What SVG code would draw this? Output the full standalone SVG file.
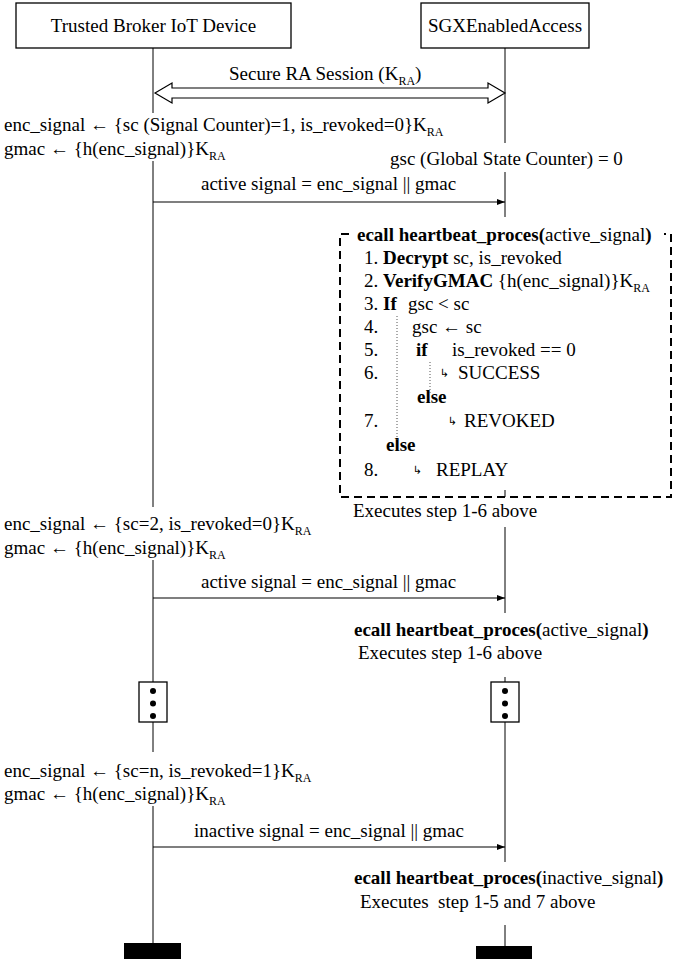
<svg xmlns="http://www.w3.org/2000/svg" width="683" height="959" viewBox="0 0 683 959">
<defs>
<marker id="ah" markerWidth="8" markerHeight="6" refX="8" refY="3" orient="auto" markerUnits="userSpaceOnUse"><path d="M0,0 L8,3 L0,6 z" fill="#000"/></marker>
</defs>
<style>
text{font-family:"Liberation Serif","Times New Roman",serif;font-size:19px;fill:#000}
.b{font-weight:bold}
.sub{font-size:12px}
.ar{font-family:"DejaVu Sans",sans-serif;font-size:11px}
.box{fill:#fff;stroke:#000;stroke-width:1.3}
.life{stroke:#000;stroke-width:1;fill:none}
.msg{stroke:#000;stroke-width:1.2;fill:none;marker-end:url(#ah)}
.dash{fill:none;stroke:#000;stroke-width:2;stroke-dasharray:8 5}
.dot{stroke:#555;stroke-width:1;stroke-dasharray:1 2;fill:none}
.bar{fill:#000}
</style>
<rect x="0" y="0" width="683" height="959" fill="#fff"/>

<g id="broker">
<rect class="box" x="16" y="3" width="275" height="45"/>
<text x="153.5" y="32" text-anchor="middle">Trusted Broker IoT Device</text>
<path class="life" d="M153,48 V113 M153,161 V507 M153,560 V682 M153,722 V752 M153,806 V943"/>
<rect id="broker-dots" class="box" x="139" y="682" width="28" height="40"/>
<circle cx="153" cy="691" r="3"/><circle cx="153" cy="703.5" r="3"/><circle cx="153" cy="716" r="3"/>
<rect class="bar" x="124" y="943" width="57" height="16"/>
</g>

<g id="sgx">
<rect class="box" x="421" y="3" width="168" height="45"/>
<text x="505" y="32" text-anchor="middle">SGXEnabledAccess</text>
<path class="life" d="M505,48 V143 M505,172 V217 M505,490 V497 M505,527 V613 M505,677 V682 M505,722 V862 M505,925 V946"/>
<rect id="sgx-dots" class="box" x="491" y="682" width="28" height="40"/>
<circle cx="505" cy="691" r="3"/><circle cx="505" cy="703.5" r="3"/><circle cx="505" cy="716" r="3"/>
<rect class="bar" x="476" y="946" width="56" height="13"/>
</g>

<g id="broker-notes">
<text x="4" y="131">enc_signal ← {sc (Signal Counter)=1, is_revoked=0}K<tspan class="sub" dy="5">RA</tspan></text>
<text x="4" y="155">gmac ← {h(enc_signal)}K<tspan class="sub" dy="5">RA</tspan></text>
<text x="4" y="530">enc_signal ← {sc=2, is_revoked=0}K<tspan class="sub" dy="5">RA</tspan></text>
<text x="4" y="554">gmac ← {h(enc_signal)}K<tspan class="sub" dy="5">RA</tspan></text>
<text x="4" y="777">enc_signal ← {sc=n, is_revoked=1}K<tspan class="sub" dy="5">RA</tspan></text>
<text x="4" y="800">gmac ← {h(enc_signal)}K<tspan class="sub" dy="5">RA</tspan></text>
</g>

<g id="sgx-notes">
<text x="390" y="165">gsc (Global State Counter) = 0</text>
<text x="353" y="517">Executes step 1-6 above</text>
<text x="354" y="636"><tspan class="b">ecall heartbeat_proces(</tspan>active_signal<tspan class="b">)</tspan></text>
<text x="358" y="659">Executes step 1-6 above</text>
<text x="354" y="884"><tspan class="b">ecall heartbeat_proces(</tspan>inactive_signal<tspan class="b">)</tspan></text>
<text x="360" y="908" xml:space="preserve">Executes  step 1-5 and 7 above</text>
</g>

<g id="ecall-block">
<path class="dash" d="M349,234 H340 V497 H671 V234 H664"/>
<text x="357" y="241"><tspan class="b">ecall heartbeat_proces(</tspan>active_signal<tspan class="b">)</tspan></text>
<text x="364" y="264">1.</text><text x="383" y="264"><tspan class="b">Decrypt</tspan> sc, is_revoked</text>
<text x="364" y="287">2.</text><text x="383" y="287"><tspan class="b">VerifyGMAC</tspan> {h(enc_signal)}K<tspan class="sub" dy="5">RA</tspan></text>
<text x="364" y="310">3.</text><text x="383" y="310" class="b">If</text><text x="408" y="310">gsc &lt; sc</text>
<text x="364" y="333">4.</text><text x="412" y="333">gsc ← sc</text>
<text x="364" y="356">5.</text><text x="416" y="356" class="b">if</text><text x="452" y="356">is_revoked == 0</text>
<text x="364" y="379">6.</text><text x="440" y="377" class="ar">↳</text><text x="458" y="379">SUCCESS</text>
<text x="417" y="403" class="b">else</text>
<text x="364" y="427">7.</text><text x="448" y="425" class="ar">↳</text><text x="464" y="427">REVOKED</text>
<text x="386" y="451" class="b">else</text>
<text x="364" y="476">8.</text><text x="413" y="474" class="ar">↳</text><text x="436" y="476">REPLAY</text>
<path class="dot" d="M397,316 V440 M430,362 V395"/>
</g>

<g id="connectors">
<polygon points="155,93 172,83 172,88 488,88 488,83 505,93 488,103 488,98 172,98 172,103" fill="#fff" stroke="#000" stroke-width="1.2"/>
<text x="229" y="80">Secure RA Session (K<tspan class="sub" dy="5">RA</tspan><tspan dy="-5">)</tspan></text>
<line class="msg" x1="153" y1="202" x2="505" y2="202"/>
<text x="201" y="190">active signal = enc_signal || gmac</text>
<line class="msg" x1="153" y1="598" x2="505" y2="598"/>
<text x="201" y="588">active signal = enc_signal || gmac</text>
<line class="msg" x1="153" y1="847" x2="505" y2="847"/>
<text x="194" y="837">inactive signal = enc_signal || gmac</text>
</g>
</svg>
